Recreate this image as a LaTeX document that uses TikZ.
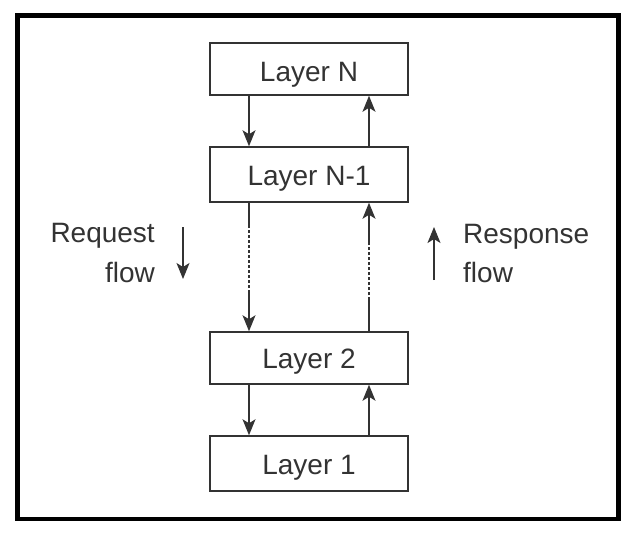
\documentclass[tikz,border=0pt]{standalone}
\usepackage{fontspec}
\setmainfont{Liberation Sans}
\usetikzlibrary{arrows.meta}
\definecolor{ink}{HTML}{333333}
\begin{document}
\begin{tikzpicture}[x=1pt,y=-1pt,
  layerbox/.style={draw=ink, line width=1.5pt, minimum width=198pt, minimum height=#1, inner sep=0pt, text=ink},
  boxtext/.style={anchor=base, text=ink, inner sep=0pt, font=\fontsize{28}{32}\selectfont},
  labeltext/.style={text=ink, inner sep=0pt, font=\fontsize{28}{32}\selectfont},
  flowarrow/.style={draw=ink, line width=1.4pt, -{Stealth[length=16pt,width=13pt,inset=4pt]}},
  plainline/.style={draw=ink, line width=1.4pt},
  dotline/.style={draw=ink, line width=1.4pt, dash pattern=on 3pt off 2pt}]
\useasboundingbox (0,0) rectangle (638,542);
\draw[line width=4.6pt, line join=miter] (17.7,15.5) rectangle (618.5,519);

\node[layerbox=52pt] (N)  at (309,69) {};
\node[layerbox=55pt] (N1) at (309,174.5) {};
\node[layerbox=52pt] (L2) at (309,358) {};
\node[layerbox=55pt] (L1) at (309,463.5) {};

\node[boxtext] (tN)  at (309,81.5)  {Layer N};
\node[boxtext] (tN1) at (309,185) {Layer N-1};
\node[boxtext] (tL2) at (309,368) {Layer 2};
\node[boxtext] (tL1) at (309,474) {Layer 1};

% Layer N <-> Layer N-1
\draw[flowarrow] ([xshift=-60pt]N.south) -- ([xshift=-60pt]N1.north);
\draw[flowarrow] ([xshift=60pt]N1.north) -- ([xshift=60pt]N.south);

% Layer N-1 <-> Layer 2 (with broken middle part)
\coordinate (da) at (249,225);
\coordinate (db) at (249,290);
\draw[plainline] ([xshift=-60pt]N1.south) -- (da);
\draw[dotline] (da) -- (db);
\draw[flowarrow] (db) -- ([xshift=-60pt]L2.north);
\coordinate (ua) at (369,300);
\coordinate (ub) at (369,242);
\draw[plainline] ([xshift=60pt]L2.north) -- (ua);
\draw[dotline] (ua) -- (ub);
\draw[flowarrow] (ub) -- ([xshift=60pt]N1.south);

% Layer 2 <-> Layer 1
\draw[flowarrow] ([xshift=-60pt]L2.south) -- ([xshift=-60pt]L1.north);
\draw[flowarrow] ([xshift=60pt]L1.north) -- ([xshift=60pt]L2.south);

% Side labels
\node[labeltext, anchor=base east] (rq1) at (155,242) {Request};
\node[labeltext, anchor=base east] (rq2) at (155,282) {flow};
\node[labeltext, anchor=base west] (rs1) at (463,243) {Response};
\node[labeltext, anchor=base west] (rs2) at (463,282) {flow};

\coordinate (reqA) at (183,227);
\coordinate (reqB) at (183,279);
\draw[flowarrow] (reqA) -- (reqB);
\coordinate (resA) at (434,280);
\coordinate (resB) at (434,227);
\draw[flowarrow] (resA) -- (resB);
\end{tikzpicture}
\end{document}
